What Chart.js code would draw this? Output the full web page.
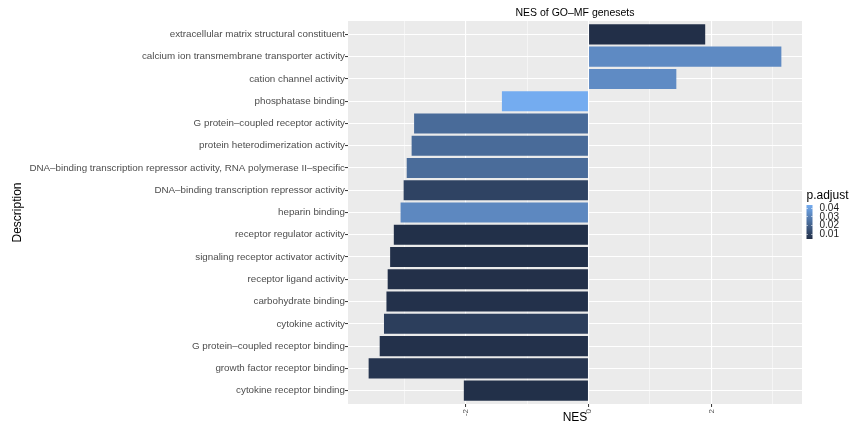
<!DOCTYPE html>
<html>
<head>
<meta charset="utf-8">
<script src="https://cdn.jsdelivr.net/npm/chart.js@4"></script>
<style>
  html, body { margin: 0; padding: 0; background: #ffffff; }
  #wrap { width: 853px; height: 430px; }
</style>
</head>
<body>
<div id="wrap"><canvas id="chart" width="853" height="430"></canvas></div>
<script>
// GO molecular-function gene sets, top to bottom
const categories = [
  'extracellular matrix structural constituent',
  'calcium ion transmembrane transporter activity',
  'cation channel activity',
  'phosphatase binding',
  'G protein–coupled receptor activity',
  'protein heterodimerization activity',
  'DNA–binding transcription repressor activity, RNA polymerase II–specific',
  'DNA–binding transcription repressor activity',
  'heparin binding',
  'receptor regulator activity',
  'signaling receptor activator activity',
  'receptor ligand activity',
  'carbohydrate binding',
  'cytokine activity',
  'G protein–coupled receptor binding',
  'growth factor receptor binding',
  'cytokine receptor binding'
];

// normalized enrichment score per gene set
const nes = [1.90, 3.14, 1.43, -1.41, -2.84, -2.88, -2.96, -3.01, -3.06,
             -3.17, -3.23, -3.27, -3.29, -3.33, -3.40, -3.58, -2.03];

// adjusted p-value per gene set (drives bar fill)
const pAdjust = [0.0043, 0.0326, 0.0330, 0.0431, 0.0229, 0.0229, 0.0232, 0.0105, 0.0320,
                 0.0045, 0.0045, 0.0046, 0.0050, 0.0090, 0.0050, 0.0062, 0.0045];

const nesTicks = [-3, -2, -1, 0, 1, 2, 3];
const legendTicks = [0.01, 0.02, 0.03, 0.04];

const chartTitle = 'NES of GO–MF genesets';
const FONT = '"Liberation Sans", Arial, Helvetica, sans-serif';

// colour ramp: low p -> dark navy, high p -> light blue
const lowRGB = [34, 47, 72];
const highRGB = [116, 172, 240];
const pMin = Math.min(...pAdjust);
const pMax = Math.max(...pAdjust);

function fillFor(p) {
  const t = Math.max(0, Math.min(1, (p - pMin) / (pMax - pMin)));
  const c = lowRGB.map((lo, k) => Math.round(lo + (highRGB[k] - lo) * t));
  return `rgb(${c[0]},${c[1]},${c[2]})`;
}

// x range padded like a 5% expansion of the data range
const nesLo = Math.min(...nes), nesHi = Math.max(...nes);
const nesPad = (nesHi - nesLo) * 0.05;

const panelPlugin = {
  id: 'panel',
  beforeDraw(chart) {
    const { ctx, chartArea: a } = chart;
    ctx.save();
    ctx.fillStyle = '#EBEBEB';
    ctx.fillRect(a.left, a.top, a.right - a.left, a.bottom - a.top);
    ctx.restore();
  },
  afterDraw(chart) {
    const { ctx, chartArea: a } = chart;
    ctx.save();
    // plot title, centred over the panel
    ctx.font = `10.5px ${FONT}`;
    ctx.fillStyle = '#000000';
    ctx.textAlign = 'center';
    ctx.textBaseline = 'middle';
    ctx.fillText(chartTitle, (a.left + a.right) / 2, 13);

    // colour bar legend
    const x0 = a.right + 4.5, barW = 6, top = 205, barH = 34;
    ctx.textAlign = 'left';
    ctx.textBaseline = 'alphabetic';
    ctx.font = `12px ${FONT}`;
    ctx.fillText('p.adjust', x0, 199);

    const grad = ctx.createLinearGradient(0, top + barH, 0, top);
    grad.addColorStop(0, fillFor(pMin));
    grad.addColorStop(1, fillFor(pMax));
    ctx.fillStyle = grad;
    ctx.fillRect(x0, top, barW, barH);

    const yFor = p => top + (pMax - p) / (pMax - pMin) * barH;
    ctx.strokeStyle = '#ffffff';
    ctx.lineWidth = 0.8;
    ctx.font = `10px ${FONT}`;
    ctx.fillStyle = '#1a1a1a';
    ctx.textBaseline = 'middle';
    legendTicks.forEach(p => {
      const y = Math.round(yFor(p)) + 0.5;
      ctx.beginPath();
      ctx.moveTo(x0, y); ctx.lineTo(x0 + 1.2, y);
      ctx.moveTo(x0 + barW - 1.2, y); ctx.lineTo(x0 + barW, y);
      ctx.stroke();
      ctx.fillText(p.toFixed(2), x0 + 13, yFor(p) + 0.5);
    });
    ctx.restore();
  }
};

new Chart(document.getElementById('chart'), {
  type: 'bar',
  data: {
    datasets: [{
      data: nes.map((v, i) => ({ x: v, y: i })),
      backgroundColor: pAdjust.map(fillFor),
      borderWidth: 0,
      categoryPercentage: 0.9,
      barPercentage: 1.0
    }]
  },
  options: {
    indexAxis: 'y',
    responsive: false,
    animation: false,
    layout: { padding: { top: 21, right: 51, bottom: 0, left: 0 } },
    plugins: {
      legend: { display: false },
      tooltip: { enabled: false },
      title: { display: false }
    },
    scales: {
      x: {
        type: 'linear',
        min: nesLo - nesPad,
        max: nesHi + nesPad,
        offset: false,
        afterBuildTicks: s => { s.ticks = nesTicks.map(v => ({ value: v })); },
        afterFit: s => { s.height = 26; },
        border: { display: false },
        grid: {
          offset: false,
          color: '#ffffff',
          lineWidth: c => (c.tick && c.tick.value % 2 === 0) ? 1.1 : 0.5,
          tickColor: c => (c.tick && c.tick.value % 2 === 0) ? '#333333' : 'rgba(0,0,0,0)',
          tickLength: 3,
          tickWidth: 1
        },
        ticks: {
          autoSkip: false,
          minRotation: 90,
          maxRotation: 90,
          padding: 2,
          color: '#4D4D4D',
          font: { family: FONT, size: 8 },
          callback: v => (v % 2 === 0 ? String(v) : '')
        },
        title: {
          display: true,
          text: 'NES',
          color: '#000000',
          font: { family: FONT, size: 12 },
          padding: { top: 0, bottom: 5 }
        }
      },
      y: {
        type: 'linear',
        reverse: true,
        offset: false,
        min: -0.6,
        max: categories.length - 1 + 0.6,
        afterBuildTicks: s => { s.ticks = categories.map((_, i) => ({ value: i })); },
        afterFit: s => { s.width = 348; },
        border: { display: false },
        grid: {
          offset: false,
          color: '#ffffff',
          lineWidth: 1.1,
          tickColor: '#333333',
          tickLength: 3,
          tickWidth: 1
        },
        ticks: {
          autoSkip: false,
          padding: 0,
          color: '#4D4D4D',
          font: { family: FONT, size: 9.8 },
          callback: v => categories[v] || ''
        },
        title: {
          display: true,
          text: 'Description',
          color: '#000000',
          font: { family: FONT, size: 12 },
          padding: { top: 10, bottom: 0 }
        }
      }
    }
  },
  plugins: [panelPlugin]
});
</script>
</body>
</html>
